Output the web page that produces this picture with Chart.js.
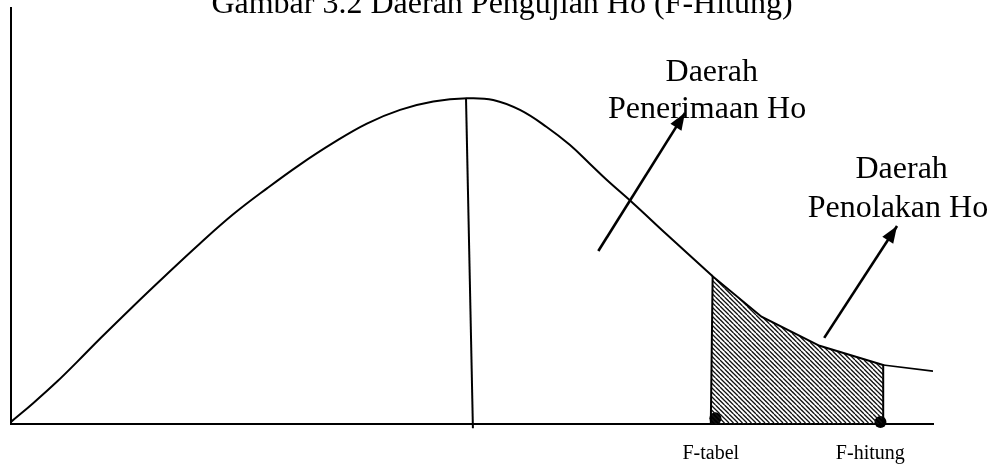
<!DOCTYPE html>
<html>
<head>
<meta charset="utf-8">
<script src="https://cdn.jsdelivr.net/npm/chart.js@4.4.0/dist/chart.umd.min.js"></script>
<style>
  html, body { margin: 0; padding: 0; background: #fff; overflow: hidden; }
  canvas { display: block; }
</style>
</head>
<body>
<canvas id="fChart" width="998" height="468"></canvas>
<script>
// axis units: x 0-100 along the F axis, y 0-100 height of the density
const title = 'Gambar 3.2 Daerah Pengujian Ho (F-Hitung)';

const curveX = [0, 2.4, 5.0, 7.2, 9.7, 13.2, 16.9, 20.5, 24.1, 27.8, 31.3, 34.9, 38.6, 42.2, 45.8, 49.5,
                52.3, 55.2, 58.1, 60.6, 62.8, 64.6, 67.5, 71.1, 76.1];
const curveY = [0.5, 5.0, 10.2, 15.0, 20.6, 28.2, 36.0, 43.4, 50.4, 56.7, 62.3, 67.5, 72.2, 75.5, 77.5, 78.3,
                77.9, 75.5, 71.4, 67.1, 62.5, 58.7, 53.0, 45.6, 35.5];

// hatched rejection region between F-tabel and F-hitung
const rejectX = [75.9, 76.1, 81.4, 87.7, 94.6, 94.6];
const rejectY = [0, 35.5, 25.8, 18.8, 14.2, 0];

const tailX = [94.6, 100];
const tailY = [14.2, 12.7];

const centerX = [49.35, 50.1];
const centerY = [78.4, -1.0];

const acceptArrowX = [63.7, 73.1];
const acceptArrowY = [41.6, 74.8];
const rejectArrowX = [88.2, 96.1];
const rejectArrowY = [20.7, 47.6];

const markerX = [76.4, 94.3];
const markerY = [1.4, 0.5];
const markerLabels = ['F-tabel', 'F-hitung'];
const markerLabelX = [75.9, 93.2];

const regionLabels = ['Daerah', 'Penerimaan Ho', 'Daerah', 'Penolakan Ho'];
const regionLabelX = [76.0, 75.5, 96.6, 96.2];
const regionLabelY = [82.5, 73.6, 59.1, 49.8];

const serif = '"Liberation Serif", "Times New Roman", serif';

function pts(xs, ys) {
    return xs.map((v, i) => ({ x: v, y: ys[i] }));
}

function hatchPattern() {
    const c = document.createElement('canvas');
    c.width = 9;
    c.height = 9;
    const g = c.getContext('2d');
    g.strokeStyle = '#111';
    g.lineWidth = 1.3;
    for (let k = -9; k <= 9; k += 4.5) {
        g.beginPath();
        g.moveTo(k, 0);
        g.lineTo(k + 9, 9);
        g.stroke();
    }
    return g.createPattern(c, 'repeat');
}

const arrowHeads = {
    id: 'arrowHeads',
    afterDatasetsDraw(chart) {
        const ctx = chart.ctx;
        chart.data.datasets.forEach((ds, i) => {
            if (!ds.arrow) return;
            const el = chart.getDatasetMeta(i).data;
            const a = el[el.length - 2], b = el[el.length - 1];
            const ang = Math.atan2(b.y - a.y, b.x - a.x);
            ctx.save();
            ctx.translate(b.x, b.y);
            ctx.rotate(ang);
            ctx.beginPath();
            ctx.moveTo(0, 0);
            ctx.lineTo(-17, -6.5);
            ctx.lineTo(-17, 6.5);
            ctx.closePath();
            ctx.fillStyle = '#000';
            ctx.fill();
            ctx.restore();
        });
    }
};

const textLabels = {
    id: 'textLabels',
    afterDraw(chart) {
        const { ctx, scales: { x, y } } = chart;
        ctx.save();
        ctx.fillStyle = '#000';
        ctx.textAlign = 'center';
        ctx.textBaseline = 'alphabetic';
        ctx.font = '32px ' + serif;
        ctx.fillText(title, 502, 13);
        regionLabels.forEach((t, i) => {
            ctx.fillText(t, x.getPixelForValue(regionLabelX[i]), y.getPixelForValue(regionLabelY[i]));
        });
        ctx.font = '20px ' + serif;
        markerLabels.forEach((t, i) => {
            ctx.fillText(t, x.getPixelForValue(markerLabelX[i]), 459);
        });
        ctx.restore();
    }
};

const line = (data, extra) => Object.assign({
    data: data,
    borderColor: '#000',
    borderWidth: 2,
    pointRadius: 0,
    fill: false,
    tension: 0
}, extra);

new Chart(document.getElementById('fChart').getContext('2d'), {
    type: 'line',
    data: {
        datasets: [
            line(pts(rejectX, rejectY), { backgroundColor: hatchPattern(), fill: 'origin' }),
            line(pts(curveX, curveY), { tension: 0.4 }),
            line(pts(tailX, tailY), { borderWidth: 1.6 }),
            line(pts(centerX, centerY), { clip: false }),
            line(pts(acceptArrowX, acceptArrowY), { borderWidth: 2.6, arrow: true }),
            line(pts(rejectArrowX, rejectArrowY), { borderWidth: 2.6, arrow: true }),
            {
                type: 'scatter',
                data: pts(markerX, markerY),
                pointRadius: 6,
                pointBackgroundColor: '#000',
                pointBorderWidth: 0,
                clip: false
            }
        ]
    },
    options: {
        responsive: false,
        animation: false,
        events: [],
        layout: { padding: { left: 11, top: 8, right: 65, bottom: 44 } },
        scales: {
            x: {
                type: 'linear',
                min: 0,
                max: 100,
                ticks: { display: false },
                grid: { display: false, drawTicks: false },
                border: { display: true, color: '#000', width: 2 }
            },
            y: {
                min: 0,
                max: 100,
                ticks: { display: false },
                grid: { display: false, drawTicks: false },
                border: { display: true, color: '#000', width: 2 }
            }
        },
        plugins: {
            legend: { display: false },
            tooltip: { enabled: false }
        }
    },
    plugins: [arrowHeads, textLabels]
});
</script>
</body>
</html>
